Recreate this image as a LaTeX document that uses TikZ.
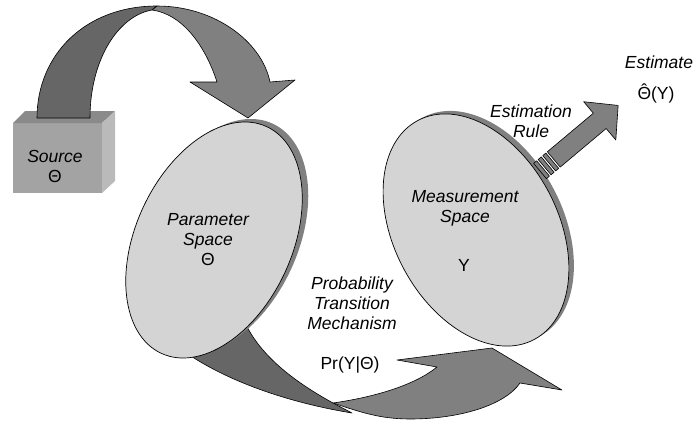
\documentclass[tikz,border=0pt]{standalone}
\usepackage{fontspec}
\setmainfont{Liberation Sans}
\usetikzlibrary{positioning}
\colorlet{estshade}{black!50}
\colorlet{estribbondark}{black!60}
\colorlet{estribbonlight}{black!50}
\colorlet{estspace}{black!17}
\colorlet{estboxfront}{black!36}
\colorlet{estboxtop}{black!46}
\colorlet{estboxside}{black!27}
\newcommand{\esthat}[1]{\ooalign{#1\cr\hidewidth\raisebox{0.2em}{\char"02C6}\hidewidth\cr}}
\tikzset{
  estribbon/.style={draw=black,line width=0.6pt,line join=round},
  estdark/.style={estribbon,fill=estribbondark},
  estlight/.style={estribbon,fill=estribbonlight},
  estdisc/.style={draw=black,line width=0.7pt,fill=estspace},
  estshadow/.style={fill=estshade},
  estlabel/.style={font=\fontsize{17.5}{20}\selectfont\itshape,align=center,inner sep=0pt},
  estsymbol/.style={font=\fontsize{17.5}{20}\selectfont,inner sep=0pt}
}

\begin{document}
\begin{tikzpicture}[x=1pt,y=-1pt]
  \useasboundingbox (0,0) rectangle (694,423);

  % source box
  \fill[estboxfront] (13,123) rectangle (102,193);
  \fill[estboxtop] (13,123) -- (25,111) -- (115,111) -- (102,123) -- cycle;
  \fill[estboxside] (102,123) -- (115,111) -- (115,181) -- (102,193) -- cycle;

  % ribbon from source to parameter space
  \path[estdark] (37,118) .. controls (37,55) and (85,6) .. (157,6)
    -- (152,10) .. controls (118,16) and (90,60) .. (90,118) -- cycle;
  \path[estlight] (157,6) .. controls (215,6) and (262,42) .. (270,82)
    -- (295,80) -- (248,118) -- (190,82) -- (217,82)
    .. controls (205,45) and (182,14) .. (152,10) -- cycle;

  % ribbon from parameter space to measurement space
  \path[estdark] (205,320) -- (185,352) .. controls (225,380) and (285,402) .. (352,413)
    -- (333,403) .. controls (295,382) and (258,355) .. (243,318) -- cycle;
  \path[estlight] (333,403) .. controls (360,412) and (380,419) .. (410,419)
    .. controls (460,419) and (505,405) .. (520,383)
    -- (562,390) -- (492,348) -- (397,360) -- (437,367)
    .. controls (415,385) and (375,397) .. (333,403) -- cycle;

  \coordinate (parc) at (214,240);
  \coordinate (parcs) at (220,237);
  \coordinate (meac) at (476,230);
  \coordinate (meacs) at (481,227);
  \fill[estshadow,rotate around={65:(parcs)}] (parcs) ellipse [x radius=125,y radius=78];
  \path[estdisc,rotate around={65:(parc)}] (parc) ellipse [x radius=125,y radius=78];
  \fill[estshadow,rotate around={118:(meacs)}] (meacs) ellipse [x radius=124,y radius=82];
  \path[estdisc,rotate around={118:(meac)}] (meac) ellipse [x radius=124,y radius=82];

  % estimation rule arrow
  \coordinate (rulebase) at (540,171);
  \foreach \s in {0,6,12}{
    \path[estlight,shift={(rulebase)},rotate=40] (\s,-10) rectangle (\s+4,10);
  }
  \path[estlight,shift={(rulebase)},rotate=40] (18,-10) -- (78,-10) -- (78,-25)
    -- (102,0) -- (78,25) -- (78,10) -- (18,10) -- cycle;

  \node[estlabel] (source) at (55,166.5) {Source\\\upshape Θ};
  \node[estlabel] (param) at (208,239.5) {Parameter\\Space\\\upshape Θ};
  \node[estlabel] (meas) at (465,208.5) {Measurement\\Space};
  \node[estsymbol] (y) at (464,265) {Y};
  \node[estlabel] (prob) at (352,303.5) {Probability\\Transition\\Mechanism};
  \node[estsymbol] (cond) at (350,365) {Pr(Y|Θ)};
  \node[estlabel] (rule) at (531,121.5) {Estimation\\Rule};
  \node[estlabel] (estim) at (659,62) {Estimate};
  \node[estsymbol] (thetahat) at (656,95) {\esthat{Θ}(Y)};
\end{tikzpicture}
\end{document}
